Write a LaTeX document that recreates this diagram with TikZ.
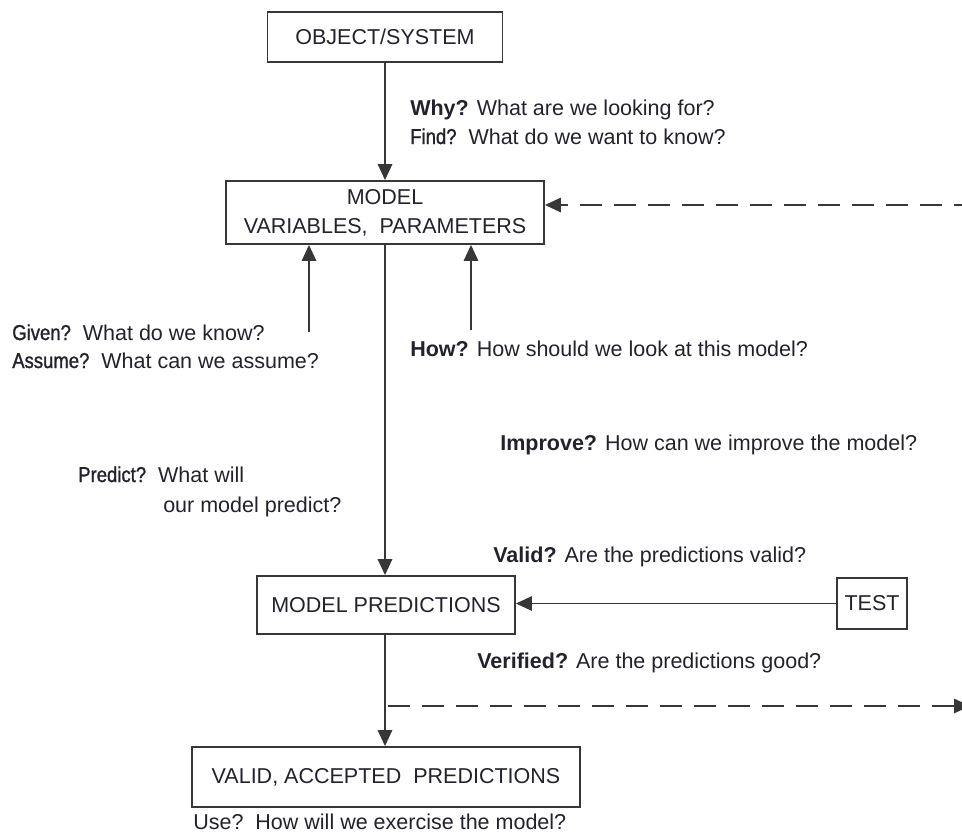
\documentclass[tikz,border=0pt]{standalone}
\usepackage{fontspec}
\setmainfont{Liberation Sans}
\newfontfamily\narrowfont[FakeStretch=0.86,FakeBold=1.2]{Liberation Sans}
\usetikzlibrary{arrows.meta,positioning}
\definecolor{lineg}{RGB}{55,55,55}
\definecolor{textg}{RGB}{34,34,44}
\tikzset{
    box/.style={
        draw=lineg,line width=1.3pt,inner sep=0pt,
        align=center,text=textg
    },
    qtext/.style={
        anchor=base west,inner sep=0pt,text=textg
    },
    arrow/.style={
        -{Triangle[length=4mm,width=3.6mm]},line width=1.3pt,draw=lineg
    },
    dasharrow/.style={
        arrow,dash pattern=on 5.5mm off 3mm
    }
}

\begin{document}
\begin{tikzpicture}[font=\fontsize{15.3}{20.5}\selectfont]

\clip (0,0) rectangle (24.05,-20.975);

% boxes
\node[box,minimum width=5.875cm,minimum height=1.25cm]
(obj) at (9.625,-0.925) {OBJECT/SYSTEM};

\node[box,minimum width=7.95cm,minimum height=1.575cm]
(model) at (9.625,-5.3125) {MODEL\\VARIABLES,\ \ PARAMETERS};

\node[box,minimum width=6.45cm,minimum height=1.45cm]
(mp) at (9.65,-15.125) {MODEL PREDICTIONS};

\node[box,minimum width=1.75cm,minimum height=1.275cm]
(test) at (21.8,-15.0875) {TEST};

\node[box,minimum width=9.7cm,minimum height=1.5cm]
(valid) at (9.65,-19.425) {VALID, ACCEPTED\ \ PREDICTIONS};

% questions
\node[qtext] (why) at (10.25,-2.875) {\textbf{Why?} What are we looking for?};
\node[qtext] (find) at (10.25,-3.6) {{\narrowfont Find?}\ \ What do we want to know?};
\node[qtext] (given) at (0.3,-8.5) {{\narrowfont Given?}\ \ What do we know?};
\node[qtext] (assume) at (0.3,-9.2) {{\narrowfont Assume?}\ \ What can we assume?};
\node[qtext] (how) at (10.25,-8.9) {\textbf{How?} How should we look at this model?};
\node[qtext] (improve) at (12.5,-11.25) {\textbf{Improve?} How can we improve the model?};
\node[qtext] (predict) at (1.95,-12.05) {{\narrowfont Predict?}\ \ What will};
\node[qtext] (predict2) at (4.075,-12.8) {our model predict?};
\node[qtext] (validq) at (12.325,-14.05) {\textbf{Valid?} Are the predictions valid?};
\node[qtext] (verified) at (11.925,-16.7) {\textbf{Verified?} Are the predictions good?};
\node[qtext] (use) at (4.825,-20.725) {Use?\ \ How will we exercise the model?};

% loose ends
\coordinate (g) at (7.725,-8.3);
\coordinate (h) at (11.775,-8.25);
\coordinate (tr) at (24.4,-5.125);
\coordinate (dl) at (9.7,-17.65);
\coordinate (dr) at (24.25,-17.65);

% connectors
\draw[arrow] (obj.south) -- (model.north -| obj.south);
\draw[arrow] (g) -- (g |- model.south);
\draw[arrow] (h) -- (h |- model.south);
\draw[arrow] (model.south -| obj.south) -- (mp.north -| obj.south);
\draw[arrow] (test.west) -- (test.west -| mp.east);
\draw[arrow] (mp.south -| obj.south) -- (valid.north -| obj.south);
\draw[dasharrow] (tr) -- (tr -| model.east);
\draw[dasharrow] (dl) -- (dr);

\end{tikzpicture}
\end{document}
